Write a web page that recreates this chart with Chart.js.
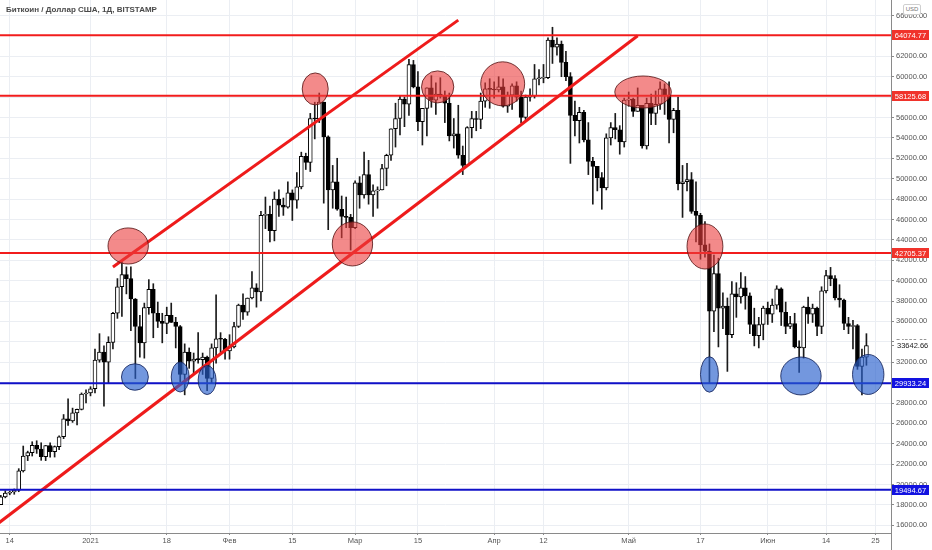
<!DOCTYPE html>
<html>
<head>
<meta charset="utf-8">
<script src="https://cdn.jsdelivr.net/npm/chart.js@4.4.1/dist/chart.umd.min.js"></script>
<style>
  html, body { margin: 0; padding: 0; background: #fff; }
  #wrap { position: relative; width: 932px; height: 550px; }
  #title { position: absolute; left: 6px; top: 5px; font: bold 8px "Liberation Sans", Arial, sans-serif; color: #4a4a4a; white-space: nowrap; }
  #unit { position: absolute; left: 903px; top: 4px; width: 16px; height: 9px; border: 1px solid #cfcfcf; border-radius: 2px; background: #fff;
          font: 6px "Liberation Sans", Arial, sans-serif; color: #777; text-align: center; line-height: 9px; }
</style>
</head>
<body>
<div id="wrap">
  <canvas id="chart" width="932" height="550"></canvas>
  <div id="title">Биткоин / Доллар США, 1Д, BITSTAMP</div>
  <div id="unit">USD</div>
</div>
<script>
// daily candles, BTC/USD Bitstamp
const dates = [
  '2020-12-12','2020-12-13','2020-12-14','2020-12-15','2020-12-16','2020-12-17','2020-12-18','2020-12-19','2020-12-20','2020-12-21',
  '2020-12-22','2020-12-23','2020-12-24','2020-12-25','2020-12-26','2020-12-27','2020-12-28','2020-12-29','2020-12-30','2020-12-31',
  '2021-01-01','2021-01-02','2021-01-03','2021-01-04','2021-01-05','2021-01-06','2021-01-07','2021-01-08','2021-01-09','2021-01-10',
  '2021-01-11','2021-01-12','2021-01-13','2021-01-14','2021-01-15','2021-01-16','2021-01-17','2021-01-18','2021-01-19','2021-01-20',
  '2021-01-21','2021-01-22','2021-01-23','2021-01-24','2021-01-25','2021-01-26','2021-01-27','2021-01-28','2021-01-29','2021-01-30','2021-01-31',
  '2021-02-01','2021-02-02','2021-02-03','2021-02-04','2021-02-05','2021-02-06','2021-02-07','2021-02-08','2021-02-09','2021-02-10',
  '2021-02-11','2021-02-12','2021-02-13','2021-02-14','2021-02-15','2021-02-16','2021-02-17','2021-02-18','2021-02-19','2021-02-20',
  '2021-02-21','2021-02-22','2021-02-23','2021-02-24','2021-02-25','2021-02-26','2021-02-27','2021-02-28',
  '2021-03-01','2021-03-02','2021-03-03','2021-03-04','2021-03-05','2021-03-06','2021-03-07','2021-03-08','2021-03-09','2021-03-10',
  '2021-03-11','2021-03-12','2021-03-13','2021-03-14','2021-03-15','2021-03-16','2021-03-17','2021-03-18','2021-03-19','2021-03-20',
  '2021-03-21','2021-03-22','2021-03-23','2021-03-24','2021-03-25','2021-03-26','2021-03-27','2021-03-28','2021-03-29','2021-03-30','2021-03-31',
  '2021-04-01','2021-04-02','2021-04-03','2021-04-04','2021-04-05','2021-04-06','2021-04-07','2021-04-08','2021-04-09','2021-04-10',
  '2021-04-11','2021-04-12','2021-04-13','2021-04-14','2021-04-15','2021-04-16','2021-04-17','2021-04-18','2021-04-19','2021-04-20',
  '2021-04-21','2021-04-22','2021-04-23','2021-04-24','2021-04-25','2021-04-26','2021-04-27','2021-04-28','2021-04-29','2021-04-30',
  '2021-05-01','2021-05-02','2021-05-03','2021-05-04','2021-05-05','2021-05-06','2021-05-07','2021-05-08','2021-05-09','2021-05-10',
  '2021-05-11','2021-05-12','2021-05-13','2021-05-14','2021-05-15','2021-05-16','2021-05-17','2021-05-18','2021-05-19','2021-05-20',
  '2021-05-21','2021-05-22','2021-05-23','2021-05-24','2021-05-25','2021-05-26','2021-05-27','2021-05-28','2021-05-29','2021-05-30','2021-05-31',
  '2021-06-01','2021-06-02','2021-06-03','2021-06-04','2021-06-05','2021-06-06','2021-06-07','2021-06-08','2021-06-09','2021-06-10',
  '2021-06-11','2021-06-12','2021-06-13','2021-06-14','2021-06-15','2021-06-16','2021-06-17','2021-06-18','2021-06-19','2021-06-20',
  '2021-06-21','2021-06-22','2021-06-23'
];

const opens = [
  18040, 18800, 19170, 19270, 19440, 21350, 22800, 23130, 23850, 23470, 22740, 23820, 23240, 23730, 24690, 26440, 26250, 27030, 27370, 28880,
  28980, 29400, 32200, 33000, 32000, 33950, 36800, 39400, 40600, 40200, 38200, 35500, 33900, 37350, 39150, 36800, 36000, 35800, 36600, 35900,
  35500, 30800, 33000, 32100, 32300, 32250, 32500, 30400, 33400, 34300, 34250,
  33100, 33500, 35500, 37600, 36900, 38300, 39300, 38900, 46400, 46500, 44900, 48000, 47400, 47200, 48600, 47900, 49200, 52200, 51600, 55900,
  55850, 57500, 54100, 48900, 49700, 47000, 46300, 46200,
  45200, 49600, 48400, 50400, 48400, 48800, 48900, 51000, 52300, 54900, 55900, 57800, 57300, 61200, 59000, 55600, 56900, 58900, 57700, 58300,
  58100, 57400, 54200, 54400, 52300, 51300, 55000, 55900, 55800, 57600, 58800,
  58750, 58700, 59000, 57100, 58200, 59100, 58000, 56000, 58000, 58100, 59800, 59850, 59900, 63600, 62900, 63200, 61400, 60000, 56200, 55700,
  56500, 53800, 51700, 51200, 50100, 49100, 54000, 55000, 54800, 53600,
  57700, 57800, 56600, 57200, 53200, 57400, 56400, 57300, 58800, 58200, 55800, 56700, 49500, 49700, 49900, 46800, 46400, 43500, 42900, 37000,
  40700, 37300, 37500, 34700, 38700, 38400, 39300, 38500, 35700, 34600, 35700,
  37300, 36700, 37600, 39200, 36900, 35500, 35800, 33500, 33400, 37400, 36700, 37300, 35500, 39000, 40500, 40200, 38300, 38100, 35800, 35500,
  35600, 31600, 32500
];
const highs = [
  18950, 19400, 19350, 19570, 21560, 23780, 23280, 24200, 24300, 24100, 23840, 24100, 23790, 24770, 26870, 28400, 27500, 27400, 28990, 29300,
  29600, 33300, 34800, 33600, 34500, 36900, 40200, 41950, 41350, 41350, 38250, 36600, 37800, 40100, 39700, 37900, 36800, 37400, 37800, 36400,
  35600, 33800, 33400, 32900, 34900, 32900, 32600, 33800, 38600, 34900, 34350,
  34700, 35900, 37700, 38700, 38300, 40900, 39700, 46800, 48200, 47300, 48700, 48900, 48100, 49700, 48900, 50600, 52600, 52500, 56400, 57500,
  58400, 57500, 54200, 51300, 52000, 48300, 48200, 46500,
  49800, 50200, 52600, 51800, 49400, 49200, 51400, 52400, 54900, 57400, 58100, 58000, 61700, 61600, 60500, 56900, 58900, 60100, 59400, 59900,
  58600, 58400, 55900, 57200, 53200, 55100, 56600, 56600, 58400, 59400, 59800,
  59500, 60000, 59800, 58500, 59300, 59500, 58600, 58200, 58800, 61200, 60700, 61200, 63800, 64850, 63800, 63500, 62500, 60400, 57600, 57000,
  56700, 55500, 52100, 51200, 50600, 54400, 55500, 56400, 55200, 57900,
  58500, 57900, 58900, 57200, 57900, 58300, 58600, 59500, 59300, 59500, 56900, 58000, 51300, 51500, 50600, 49700, 46600, 45800, 43600, 42500,
  42200, 38800, 38300, 39900, 39800, 40800, 40400, 38800, 37300, 36400, 37500,
  37900, 38200, 39500, 39300, 37900, 36500, 36800, 34100, 37500, 38400, 37700, 37400, 39400, 41000, 41300, 40500, 39600, 38200, 36400, 36100,
  35700, 33300, 34800
];
const lows = [
  18020, 18700, 19000, 19050, 19300, 21230, 22350, 22800, 23060, 22380, 22350, 22700, 22700, 23430, 24500, 25800, 26100, 25860, 27320, 28000,
  28700, 29000, 32000, 27700, 29900, 33300, 36300, 36500, 38700, 35100, 30400, 32500, 32400, 36700, 34400, 35400, 33900, 34800, 35900, 33400,
  30100, 28800, 31400, 30900, 31900, 30800, 29200, 29900, 31900, 32900, 32300,
  32300, 33400, 35400, 36200, 36600, 38200, 37400, 38000, 45100, 43800, 43900, 46300, 46400, 47100, 45900, 47100, 49000, 50900, 50700, 53900,
  55500, 47600, 45000, 47100, 46900, 44200, 45200, 43000,
  45100, 47100, 48100, 47500, 46300, 47100, 48900, 49300, 51800, 53100, 54300, 55100, 56200, 58900, 54700, 53300, 54200, 57000, 56300, 57900,
  55500, 53700, 53000, 52000, 50400, 51300, 54000, 54700, 54900, 57000, 56900,
  57900, 58500, 57000, 56500, 56800, 57600, 55500, 55800, 57600, 57900, 59200, 59400, 59800, 61300, 62100, 60000, 59600, 51500, 54200, 53500,
  53600, 50400, 47500, 48800, 47000, 48900, 53300, 53900, 52400, 53100,
  57100, 56100, 56600, 53000, 52900, 55300, 55300, 56800, 56300, 53500, 54500, 48900, 46200, 48800, 46600, 43800, 42100, 42300, 30000, 35000,
  33500, 35300, 31100, 34400, 36400, 37800, 37200, 34800, 33600, 33400, 34200,
  35700, 35900, 37200, 35600, 34800, 35300, 33400, 31000, 32400, 35800, 35900, 34600, 34800, 38800, 39500, 38100, 37400, 35200, 34800, 33300,
  31300, 28800, 31700
];
const closes = [
  18800, 19170, 19270, 19440, 21350, 22800, 23130, 23850, 23470, 22740, 23820, 23240, 23730, 24690, 26440, 26250, 27030, 27370, 28880, 28980,
  29400, 32200, 33000, 32000, 33950, 36800, 39400, 40600, 40200, 38200, 35500, 33900, 37350, 39150, 36800, 36000, 35800, 36600, 35900, 35500,
  30800, 33000, 32100, 32300, 32250, 32500, 30400, 33400, 34300, 34250, 33100,
  33500, 35500, 37600, 36900, 38300, 39300, 38900, 46400, 46500, 44900, 48000, 47400, 47200, 48600, 47900, 49200, 52200, 51600, 55900, 55850,
  57500, 54100, 48900, 49700, 47000, 46300, 46200, 45200,
  49600, 48400, 50400, 48400, 48800, 48900, 51000, 52300, 54900, 55900, 57800, 57300, 61200, 59000, 55600, 56900, 58900, 57700, 58300, 58100,
  57400, 54200, 54400, 52300, 51300, 55000, 55900, 55800, 57600, 58800, 58750,
  58700, 59000, 57100, 58200, 59100, 58000, 56000, 58000, 58100, 59800, 59850, 59900, 63600, 62900, 63200, 61400, 60000, 56200, 55700, 56500,
  53800, 51700, 51200, 50100, 49100, 54000, 55000, 54800, 53600, 57700,
  57800, 56600, 57200, 53200, 57400, 56400, 57300, 58800, 58200, 55800, 56700, 49500, 49700, 49900, 46800, 46400, 43500, 42900, 37000, 40700,
  37300, 37500, 34700, 38700, 38400, 39300, 38500, 35700, 34600, 35700, 37300,
  36700, 37600, 39200, 36900, 35500, 35800, 33500, 33400, 37400, 36700, 37300, 35500, 39000, 40500, 40200, 38300, 38100, 35800, 35500, 35600,
  31600, 32500, 33642.66
];

// axis ticks
const xTickDates = ['2020-12-14','2021-01-01','2021-01-18','2021-02-01','2021-02-15','2021-03-01','2021-03-15',
                    '2021-04-01','2021-04-12','2021-05-01','2021-05-17','2021-06-01','2021-06-14','2021-06-25'];
const xTickLabels = ['14','2021','18','Фев','15','Мар','15','Апр','12','Май','17','Июн','14','25'];
const yTicks = [16000, 18000, 20000, 22000, 24000, 26000, 28000, 30000, 32000, 34000, 36000, 38000, 40000,
                42000, 44000, 46000, 48000, 50000, 52000, 54000, 56000, 58000, 60000, 62000, 64000, 66000];

// drawn levels and channel
const redLevels = [64074.77, 58125.68, 42705.37];
const blueLevels = [29933.24, 19494.67];
const lastPrice = 33642.66;
const upperChannel = [['2021-01-06', 41340], ['2021-03-24', 65550]];
const lowerChannel = [['2020-12-10', 15720], ['2021-05-03', 64020]];

// marked zones: centre (days from 2021-01-01, price), half extents
const redZones = [
  { day: 8.4, price: 43400, halfDays: 4.5, halfPrice: 1770 },
  { day: 50.1, price: 58800, halfDays: 2.9, halfPrice: 1570 },
  { day: 58.4, price: 43600, halfDays: 4.5, halfPrice: 2160 },
  { day: 77.4, price: 59000, halfDays: 3.6, halfPrice: 1570 },
  { day: 91.9, price: 59300, halfDays: 4.9, halfPrice: 2160 },
  { day: 123.2, price: 58500, halfDays: 6.3, halfPrice: 1570 },
  { day: 137.0, price: 43350, halfDays: 4.0, halfPrice: 2210 }
];
const blueZones = [
  { day: 9.9, price: 30550, halfDays: 3.0, halfPrice: 1300 },
  { day: 20.0, price: 30550, halfDays: 2.0, halfPrice: 1470 },
  { day: 26.0, price: 30250, halfDays: 2.0, halfPrice: 1420 },
  { day: 138.0, price: 30800, halfDays: 2.0, halfPrice: 1740 },
  { day: 158.4, price: 30650, halfDays: 4.5, halfPrice: 1860 },
  { day: 173.4, price: 30800, halfDays: 3.5, halfPrice: 1960 }
];

const FONT = '"Liberation Sans", Arial, sans-serif';
const dayOf = s => (Date.parse(s + 'T00:00:00Z') - Date.parse('2021-01-01T00:00:00Z')) / 86400000;

const wicks = dates.map((d, i) => ({ x: dayOf(d), y: [lows[i], highs[i]] }));
const bodies = dates.map((d, i) => ({ x: dayOf(d), y: [opens[i], closes[i]] }));
const bodyColors = dates.map((d, i) => closes[i] >= opens[i] ? '#ffffff' : '#000000');

const levelLine = (v, color) => ({
  type: 'line', data: [{ x: -40, y: v }, { x: 220, y: v }],
  borderColor: color, borderWidth: 2, pointRadius: 0, order: 0
});
const trendLine = pts => ({
  type: 'line', data: pts.map(p => ({ x: dayOf(p[0]), y: p[1] })),
  borderColor: '#ee1b1b', borderWidth: 3, pointRadius: 0, order: 0
});

const overlays = {
  id: 'overlays',
  afterDatasetsDraw(chart) {
    const { ctx, chartArea: a, scales: { x, y } } = chart;
    ctx.save();
    ctx.beginPath();
    ctx.rect(a.left, a.top, a.right - a.left, a.bottom - a.top);
    ctx.clip();
    const draw = (zones, fill, stroke) => zones.forEach(z => {
      const cx = x.getPixelForValue(z.day), cy = y.getPixelForValue(z.price);
      const rx = Math.abs(x.getPixelForValue(z.day + z.halfDays) - cx);
      const ry = Math.abs(y.getPixelForValue(z.price + z.halfPrice) - cy);
      ctx.beginPath();
      ctx.ellipse(cx, cy, rx, ry, 0, 0, Math.PI * 2);
      ctx.fillStyle = fill;
      ctx.fill();
      ctx.lineWidth = 1;
      ctx.strokeStyle = stroke;
      ctx.stroke();
    });
    draw(redZones, 'rgba(235,60,60,0.6)', 'rgba(90,25,25,0.85)');
    draw(blueZones, 'rgba(40,95,205,0.65)', 'rgba(20,35,90,0.85)');
    ctx.restore();
  },
  afterDraw(chart) {
    const { ctx, chartArea: a, scales: { y } } = chart;
    ctx.save();
    ctx.font = '7.5px ' + FONT;
    ctx.textBaseline = 'middle';
    const tag = (v, bg) => {
      const py = Math.round(y.getPixelForValue(v));
      ctx.fillStyle = bg;
      ctx.fillRect(a.right + 1, py - 5, 37, 10);
      ctx.fillStyle = '#fff';
      ctx.textAlign = 'center';
      ctx.fillText(v.toFixed(2), a.right + 19.5, py + 0.5);
    };
    redLevels.forEach(v => tag(v, '#f0332b'));
    blueLevels.forEach(v => tag(v, '#1212e0'));

    // last price
    const py = Math.round(y.getPixelForValue(lastPrice));
    ctx.fillStyle = '#fff';
    ctx.fillRect(a.right + 4, py - 5, 41, 10);
    ctx.strokeStyle = '#8a8a8a';
    ctx.lineWidth = 1;
    ctx.beginPath();
    ctx.moveTo(a.right, py + 0.5);
    ctx.lineTo(a.right + 3, py + 0.5);
    ctx.moveTo(a.right + 0.5, a.bottom);
    ctx.lineTo(a.right + 0.5, chart.height);
    ctx.stroke();
    ctx.fillStyle = '#222';
    ctx.textAlign = 'left';
    ctx.fillText(lastPrice.toFixed(2), a.right + 6, py + 0.5);
    ctx.restore();
  }
};

const ctx = document.getElementById('chart').getContext('2d');
const chart = new Chart(ctx, {
  type: 'bar',
  data: {
    datasets: [
      ...redLevels.map(v => levelLine(v, '#f21c1c')),
      ...blueLevels.map(v => levelLine(v, '#1010c8')),
      trendLine(upperChannel),
      trendLine(lowerChannel),
      {
        data: bodies, backgroundColor: bodyColors, borderColor: '#000', borderWidth: 1,
        borderSkipped: false, barThickness: 4, minBarLength: 1, grouped: false, order: 1
      },
      {
        data: wicks, backgroundColor: '#1a1a1a', borderWidth: 0,
        barThickness: 1, grouped: false, order: 2
      }
    ]
  },
  options: {
    responsive: false,
    animation: false,
    layout: { padding: 0 },
    plugins: { legend: { display: false }, tooltip: { enabled: false } },
    scales: {
      x: {
        type: 'linear', min: -20.18, max: 178.48, offset: false,
        afterBuildTicks: s => { s.ticks = xTickDates.map(d => ({ value: dayOf(d) })); },
        afterFit: s => { s.height = 17; s.paddingLeft = 0; s.paddingRight = 0; },
        grid: { color: '#ebeef3', tickColor: '#8a8a8a', tickLength: 2, offset: false },
        border: { color: '#8a8a8a' },
        ticks: {
          autoSkip: false, maxRotation: 0, padding: 1,
          font: { family: FONT, size: 7.5 }, color: '#555',
          callback: (v, i) => xTickLabels[i]
        }
      },
      y: {
        position: 'right', min: 15252, max: 67522,
        afterBuildTicks: s => { s.ticks = yTicks.map(v => ({ value: v })); },
        afterFit: s => { s.width = 41; s.paddingTop = 0; s.paddingBottom = 0; },
        grid: { color: '#ebeef3', tickColor: '#8a8a8a', tickLength: 3 },
        border: { color: '#8a8a8a' },
        ticks: {
          padding: 2, font: { family: FONT, size: 7.5 }, color: '#555',
          callback: v => v.toFixed(2)
        }
      }
    }
  },
  plugins: [overlays]
});
</script>
</body>
</html>
